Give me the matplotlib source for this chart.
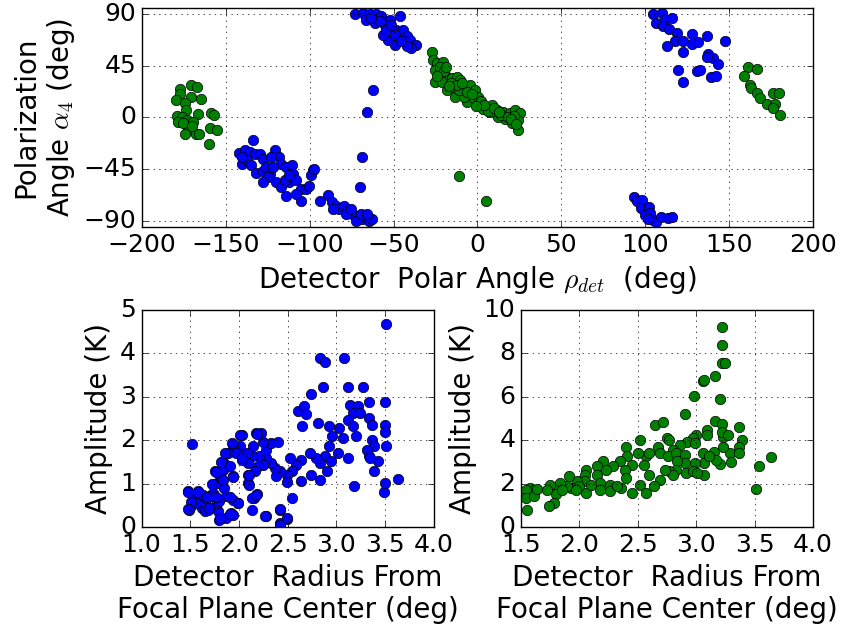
import numpy as np
import matplotlib
matplotlib.use('Agg')
import matplotlib.pyplot as plt

plt.style.use('classic')
plt.rcParams['font.family'] = ['DejaVu Sans']
plt.rcParams['mathtext.fontset'] = 'cm'

# ---- top panel: polarization angle vs detector polar angle ----
# green detectors
green_rho = [
    -170.8, -167.4, -177.3, -177.3, -179.8, -171, -165, -174.3, -173.9, -166.8,
    -179.2, -176.3, -178.7, -173.3, -169.4, -159, -157.1, -159.5, -155.5, -172.3,
    -174.3, -167.8, -166.2, -160.1, -175.7, -170.4,
    -27.3, -26.3, -24.3, -20.3, -25.3, -22.3, -25.3, -18.3, -15.4, -12.3,
    -10.4, -18.3, -13.3, -14.3, -8.3, -4.3, -1.3, -6.3, -2.3, 1.5,
    5.5, 8.5, 11.5, 15.4, 19.4, 22.4, 25.4, 24.4, 24.4, 20.4,
    16.4, 12.5, 7.5, 3.5, 0.5, -8.3, -21.3, -11.3, -22.3,
    -20, -16, -12, -6, -3, 2, 6, 10, 14, 18, 22, -24, -19, -9, 4, 13, 20, 23, -17, -1,
    -10.8, 5,
    161.4, 166.4, 158.8, 162.4, 162.8, 166.8, 168.3, 172.4, 176.4, 180, 177.4, 176, 180.4,
]
green_alpha = [
    28.2, 26.7, 24.4, 20.3, 15.1, 18, 15.7, 12.2, 6.4, 2.9,
    1.5, 0, -3.8, -2.3, -3.8, 3.5, 2, -8.7, -11, -9.6,
    -14, -14, -14.5, -22.7, -5.2, -7.6,
    57.2, 50, 47, 48.5, 41.3, 38.4, 31.1, 35.5, 34, 35.5,
    32.6, 23.8, 18, 26.7, 25.3, 28.2, 23.8, 13.7, 16.6, 12.2,
    9.3, 10.8, 6.4, 4.9, 3.5, 6.4, 3.5, -2.3, -11, -5.2,
    -0.9, 0.6, 4.9, 7.8, 18, 18, 31.1, 23.8, 44.2,
    40, 30, 28, 22, 20, 14, 6, 8, 2, 0, 1, 36, 44, 30, 11, 5, -1, -6, 27, 10,
    -50.6, -72.1,
    44.2, 42.2, 36.3, 28.2, 25.3, 20.9, 17.2, 11.3, 20.9, 20.9, 11.3, 8, 2,
]

# blue detectors
blue_rho = [
    -133.8, -142.1, -138.7, -135.8, -132.8, -129.8, -127.8, -140.1, -137.4, -134.8,
    -131.8, -127.8, -125.9, -123.5, -124.9, -127.8, -120.9, -118.4, -117, -114,
    -110.5, -110.1, -112.1, -108.1, -105.1, -102.2, -100.2, -98.2, -99.2, -97.2,
    -114, -105.1, -93.7, -120, -117, -115, -108.1, -122.9, -121.9, -112.1, -140.1,
    -89.3, -86.7, -84.4, -82.4, -79.4, -77.5, -74.5, -71.5, -68.6, -66.6,
    -64.6, -62.6, -86.3, -78.4, -72.5, -69.6, -75.5, -65.6,
    -70, -68.6, -65.6, -62.3,
    -73.2, -68.2, -64.2, -60.2, -57.3, -52.3, -45.9, -66.2, -61.2, -55.3,
    -51.3, -48.3, -44.3, -42.3, -40.4, -36.4, -39.4, -46.3, -53.3, -56.3,
    -49.3, -42.3, -49.3, -58.2, -54.3, -45.3, -51.3, -63.2,
    104.8, 109.7, 106.4, 111.7, 115.7, 110.7, 114.3, 118.7, 127.7, 136.6,
    147.6, 117.7, 122.7, 127.7, 131.7, 113.1, 122.7, 137.6, 140.6, 136.6,
    143.6, 119.7, 130.6, 132.6, 139.1, 142.1, 122.7,
    93.2, 94.8, 97.8, 97.2, 102.5, 99.9, 102.9, 104.9, 106.5, 109.3,
    113.8, 115.8, 101.9,
]
blue_alpha = [
    -19.8, -30.8, -27.9, -30, -32, -31.4, -35.8, -40, -36.6, -41,
    -48.3, -46, -43, -48.8, -51.7, -56, -28.5, -34.3, -40, -43,
    -41.6, -48.8, -56, -54.4, -61.9, -61.9, -59, -45.9, -50.3, -44.5,
    -67.7, -72.7, -72.1, -56, -60.5, -54, -66.3, -34.3, -43, -50.3, -34.3,
    -67.2, -73.5, -76.5, -79.4, -76.5, -80.8, -83.7, -85.2, -88, -86.6,
    -89.5, -88, -79.4, -83.7, -89.5, -83.7, -79.4, -83.7,
    -60.5, -34.6, 4.4, 23.8,
    89.7, 91, 90.1, 89.5, 88, 85, 88, 85, 82, 80.6,
    77.7, 76.3, 76.3, 70.5, 67.6, 63.2, 60.3, 69.1, 67.6, 72,
    63.2, 61.8, 72, 83.4, 76.3, 66.2, 80.6, 86.5,
    89.7, 91, 82.4, 84.2, 85.9, 79.5, 77.1, 73.3, 72.3, 70.3,
    66.6, 66.6, 66.6, 64, 65.5, 62, 56.7, 55.5, 51.7, 52.6,
    46.5, 41, 40.7, 41, 35, 36.3, 30.5,
    -68.8, -72.7, -71.2, -78.4, -77.5, -84.9, -82.6, -89.3, -91, -86.3,
    -86.9, -86.3, -87.8,
]

# ---- bottom left: blue amplitude vs radius ----
blue_radius = [
    1.52, 3.51, 2.83, 2.88, 3.08, 2.74, 2.86, 3.12, 3.27, 2.61,
    2.67, 2.69, 2.65, 2.81, 2.92, 3.14, 3.22, 3.34, 3.5, 3.17,
    3.24, 3.12, 3.03, 3.17, 3.34, 3.37, 3.5, 3.5, 3.2, 3.07,
    2.96, 3.37, 3.39, 3.51, 3.32, 3.34, 3.43, 3.35, 3.12, 3.02,
    2.93, 2.88, 2.83, 2.79, 2.73, 2.64, 2.59, 2.52, 2.55, 2.49,
    2.49, 2.42, 2.38, 2.37, 2.33, 2.28, 2.25, 2.2, 2.16, 2.21,
    2.28, 2.33, 2.4, 2.25, 2.18, 2.23, 2.14, 2.13, 2.09, 2.08,
    2.03, 2.01, 2.03, 1.94, 1.97, 1.89, 1.85, 1.84, 1.75, 1.77,
    1.91, 1.94, 2.09, 2.09, 1.82, 1.85, 1.87, 1.94, 1.99, 1.92,
    1.94, 1.87, 1.8, 1.78, 2.15, 2.19, 2.13, 2.28, 2.42, 2.42,
    2.49, 2.54, 2.64, 2.74, 2.83, 2.9, 2.95, 3.18, 3.49, 3.5,
    3.63, 3.39,
    1.48, 1.49, 1.51, 1.53, 1.58, 1.6, 1.63, 1.67, 1.68, 1.7,
    1.73, 1.62, 1.56, 1.77, 1.65, 1.74, 1.8,
    1.48, 1.51, 1.48, 1.58, 1.67, 1.76, 1.69, 1.81, 1.91, 1.72,
    1.76, 1.82, 1.86, 1.84, 1.94, 1.91, 1.99, 1.93, 2.01, 2.03,
    2.1, 2.1, 2.13, 2.18, 2.19, 2.27, 2.42, 2.49, 2.42,
]
blue_amp = [
    1.92, 4.68, 3.89, 3.81, 3.89, 3.07, 3.22, 3.22, 3.22, 2.68,
    2.78, 2.61, 2.32, 2.39, 2.32, 2.81, 2.79, 2.87, 2.87, 2.62,
    2.62, 2.47, 2.28, 2.32, 2.51, 2.35, 2.35, 2.2, 2.09, 2.05,
    2.09, 2.01, 1.86, 1.87, 1.78, 1.63, 1.51, 1.59, 1.59, 1.7,
    1.86, 1.63, 1.47, 1.59, 1.7, 1.55, 1.43, 1.59, 1.28, 1.2,
    1.03, 1.28, 1.17, 1.36, 1.47, 1.59, 1.43, 1.4, 1.28, 1.63,
    1.78, 1.93, 1.97, 1.97, 2.16, 2.16, 1.86, 1.63, 1.47, 1.7,
    1.55, 1.86, 2.12, 1.89, 1.7, 1.7, 1.47, 1.32, 1.28, 1.01,
    1.4, 1.17, 1.2, 1.01, 1.13, 0.9, 0.71, 0.63, 0.55, 0.32,
    0.28, 0.21, 0.17, 0.36, 0.67, 0.77, 0.4, 0.25, 0.4, 0.09,
    0.18, 0.67, 1.05, 1.2, 1.09, 1.28, 1.51, 0.95, 0.8, 1.01,
    1.1, 1.28,
    0.82, 0.4, 0.48, 0.71, 0.82, 0.59, 0.74, 0.48, 0.4, 0.71,
    0.78, 0.44, 0.55, 0.55, 0.36, 0.71, 0.59,
    0.81, 0.58, 0.41, 0.81, 0.7, 0.7, 0.43, 0.2, 0.31, 1.0,
    1.27, 1.5, 1.7, 1.08, 1.16, 0.7, 0.55, 1.93, 2.12, 1.58,
    1.2, 0.97, 0.66, 0.74, 2.14, 0.26, 0.41, 0.2, 0.05,
]

# ---- bottom right: green amplitude vs radius ----
green_radius = [
    3.22, 3.22, 3.22, 3.25, 3.16, 3.06, 3.07, 2.98, 3.2, 2.9,
    2.65, 2.72, 3.16, 3.22, 3.37, 3.39, 3.37, 3.29, 3.3, 3.2,
    3.23, 3.23, 3.22, 3.09, 3.09, 3.0, 2.97, 2.92, 2.86, 2.8,
    2.75, 2.77, 2.67, 2.69, 2.76, 2.83, 2.9, 2.99, 3.06, 3.15,
    3.07, 2.99, 2.9, 2.84, 2.91, 2.97, 3.07, 3.01, 2.83, 2.77,
    2.8, 2.73, 2.69, 2.64, 2.6, 2.57, 2.6, 2.52, 2.5, 2.4,
    2.41, 2.45, 2.39, 2.4, 2.52, 2.57, 2.55, 2.35, 2.29, 2.2,
    2.23, 2.15, 2.15, 2.18, 2.18, 2.26, 2.26, 2.36, 2.45, 2.32,
    2.06, 2.05, 2.05, 2.06, 1.98, 1.91, 1.93, 1.89, 1.83, 1.79,
    1.8, 1.75, 1.72, 1.78, 1.74, 1.58, 1.61, 1.54, 1.54, 1.55,
    1.61, 1.64, 2.0, 2.1, 1.97, 1.85, 3.54, 3.64, 3.51, 3.37,
    3.27, 3.17, 3.11,
]
green_amp = [
    9.2, 8.39, 7.58, 7.58, 6.98, 6.73, 6.78, 6.04, 5.89, 5.2,
    4.68, 4.83, 4.89, 4.74, 4.63, 4.02, 3.71, 3.4, 2.98, 2.9,
    3.71, 4.17, 4.4, 4.48, 4.25, 4.25, 4.1, 3.94, 3.79, 3.56,
    4.1, 4.02, 3.71, 3.4, 3.25, 3.4, 3.33, 3.87, 3.4, 3.48,
    2.94, 2.94, 2.94, 3.02, 2.48, 2.56, 2.41, 2.48, 2.64, 2.56,
    2.41, 2.64, 2.18, 1.87, 2.41, 3.25, 3.4, 4.02, 3.4, 3.71,
    3.25, 2.87, 2.64, 2.25, 1.95, 1.56, 2.87, 3.02, 2.79, 3.02,
    2.64, 2.79, 2.41, 2.02, 1.72, 1.95, 1.64, 1.79, 1.56, 1.87,
    2.64, 2.41, 2.1, 1.56, 2.1, 2.33, 1.79, 1.87, 2.02, 1.72,
    1.53, 1.95, 1.72, 1.1, 0.98, 1.79, 1.72, 1.72, 1.33, 0.77,
    1.41, 1.75, 1.87, 1.95, 1.72, 1.72, 2.79, 3.21, 1.76, 3.4,
    4.25, 3.1, 3.25,
]

mk = dict(linestyle='none', marker='o', markersize=7.5,
          markeredgecolor='k', markeredgewidth=0.5)
tick_fs = 18
label_fs = 20

fig = plt.figure(figsize=(8.43, 6.24), dpi=100, facecolor='white')

ax1 = fig.add_axes([0.1684, 0.6362, 0.7960, 0.3510])
ax1.plot(blue_rho, blue_alpha, color='b', **mk)
ax1.plot(green_rho, green_alpha, color='g', **mk)
ax1.set_xlim(-200, 200)
ax1.set_ylim(-95, 95)
ax1.set_xticks(np.arange(-200, 201, 50))
ax1.set_yticks([-90, -45, 0, 45, 90])
ax1.grid(True)
ax1.set_xlabel(r'Detector  Polar Angle $\rho_{det}$  (deg)', fontsize=label_fs)
ax1.set_ylabel('Polarization\n' + r'Angle $\alpha_4$ (deg)', fontsize=label_fs)
ax1.tick_params(labelsize=tick_fs)

ax2 = fig.add_axes([0.168, 0.1554, 0.3464, 0.3478])
ax2.plot(blue_radius, blue_amp, color='b', **mk)
ax2.set_xlim(1.0, 4.0)
ax2.set_ylim(0, 5)
ax2.set_xticks(np.arange(1.0, 4.01, 0.5))
ax2.set_yticks(np.arange(0, 6, 1))
ax2.grid(True)
ax2.set_xlabel('Detector  Radius From\nFocal Plane Center (deg)', fontsize=label_fs)
ax2.set_ylabel('Amplitude (K)', fontsize=label_fs)
ax2.tick_params(labelsize=tick_fs)

ax3 = fig.add_axes([0.618, 0.1554, 0.3464, 0.3478])
ax3.plot(green_radius, green_amp, color='g', **mk)
ax3.set_xlim(1.5, 4.0)
ax3.set_ylim(0, 10)
ax3.set_xticks(np.arange(1.5, 4.01, 0.5))
ax3.set_yticks(np.arange(0, 11, 2))
ax3.grid(True)
ax3.set_xlabel('Detector  Radius From\nFocal Plane Center (deg)', fontsize=label_fs)
ax3.set_ylabel('Amplitude (K)', fontsize=label_fs)
ax3.tick_params(labelsize=tick_fs)

fig.savefig('out.png', dpi=100, facecolor='white')
